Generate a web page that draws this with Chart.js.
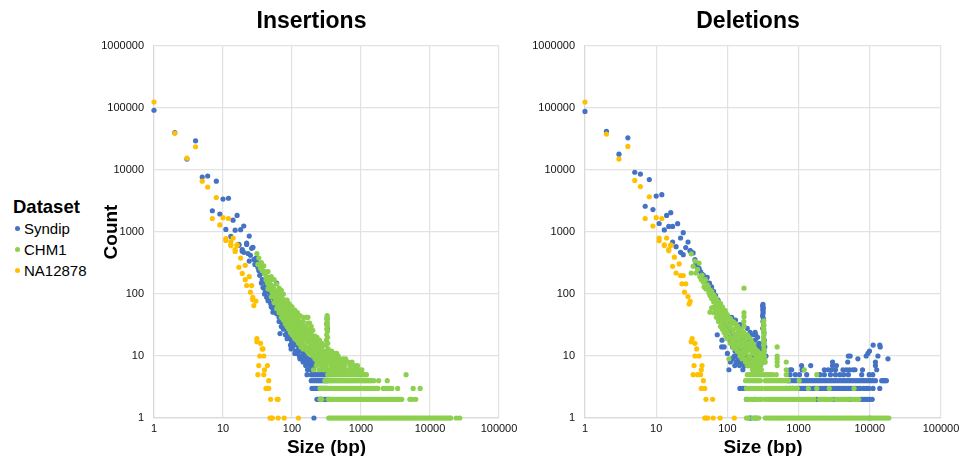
<!DOCTYPE html>
<html>
<head>
<meta charset="utf-8">
<title>Insertions and Deletions</title>
<script src="https://cdn.jsdelivr.net/npm/chart.js@4/dist/chart.umd.min.js"></script>
<style>
  html, body { margin: 0; padding: 0; background: #fff; overflow: hidden; width: 960px; height: 456px; }
  canvas { position: absolute; top: 0; }
  #c-ins { left: 90px; }
  #c-del { left: 530px; }
  #legend { position: absolute; left: 13px; top: 196px; font-family: "Liberation Sans", Arial, sans-serif; color: #000; }
  #legend .head { font-weight: bold; font-size: 18.5px; line-height: 22px; }
  #legend .row { position: relative; font-size: 15px; line-height: 21px; padding-left: 11px; }
  #legend .dot { position: absolute; left: 1.5px; top: 8px; width: 5px; height: 5px; border-radius: 50%; }
</style>
</head>
<body>
<div id="legend"></div>
<canvas id="c-ins" width="443" height="456"></canvas>
<canvas id="c-del" width="436" height="456"></canvas>
<script>
// ── Axis ticks ────────────────────────────────────────────────────
const xTicks = [1, 10, 100, 1000, 10000, 100000];
const yTicks = [1, 10, 100, 1000, 10000, 100000, 1000000];

// ── Legend ────────────────────────────────────────────────────────
const legendTitle = 'Dataset';
const seriesNames = ['Syndip', 'CHM1', 'NA12878'];
const seriesColors = ['#4472C4', '#8CD04E', '#FFC000'];

// ── Insertions: [size, count] ─────────────────────────────────────
const insSyndip = [
  [1,92000],[2,40000],[3,15000],[4,29500],[5,7700],[6,8000],[7,2200],[8,6600],[9,1950],[10,3400],
  [11,1100],[12,3500],[13,850],[14,1550],[15,1070],[16,1850],[17,630],[18,1090],[19,520],[20,1250],
  [22,660],[24,860],[26,545],[27,565],[17,610],[22,630],[27,560],[19,490],[20,470],[23,450],[25,420],
  [28,360],[24,340],[29,300],[30,380],[31,330],[32,270],[33,240],[34,200],[35,260],[36,150],[37,170],
  [38,127],[39,220],[40,165],[41,115],[42,140],[43,89],[44,185],[45,110],[46,82],[47,130],[48,95],
  [49,70],[50,100],[52,60],[53,51],[54,85],[55,72],[56,58],[57,95],[58,65],[60,150],[60,48],[62,70],
  [63,55],[65,42],[67,23],[68,60],[70,36],[72,50],[75,32],[76,45],[78,38],[80,28],[83,35],[85,24],
  [88,30],[90,21],[92,33],[95,19],[97,13],[99,17],[100,26],[102,14],[105,22],[108,16],[110,19],[113,12],
  [115,24],[118,15],[120,11],[122,17],[125,13],[128,10],[130,20],[133,12],[136,9],[140,14],[143,10],
  [145,8],[148,11],[150,13],[155,9],[158,7],[160,10],[163,8],[168,6],[170,9],[175,12],[180,7],[182,8],
  [188,6],[192,9],[195,7],[200,8],[205,6],[210,7],[208,1],[322,40],[320,33],[326,28],
  [40,100],[45,78],[50,62],[55,52],[65,36],[70,30],[75,27],[80,22],[85,19],[95,15],[110,11],[130,9],[140,9]
];
const insSyndipCount5 = [165,190,200,212,225,240,255,270,285,300,320];
const insSyndipCount4 = [190,205,220,235,250,265,285,305,325];
const insSyndipCount3 = [195,210,225,240,255,270,290,310,330];
const insSyndipCount2 = [230,240,250,260,270,280,300,320,340];

const insChm1 = [
  [31,450],[32,300],[33,380],[34,300],[35,260],[36,320],[37,240],[38,280],[39,285],[40,210],[41,230],
  [42,170],[43,190],[44,150],[45,180],[46,130],[47,160],[48,125],[49,140],[50,170],[51,110],[52,135],
  [53,100],[54,125],[55,90],[56,115],[57,85],[58,105],[60,75],[60,145],[61,95],[62,65],[63,110],[64,80],
  [65,70],[66,100],[67,60],[68,85],[69,75],[70,55],[71,90],[72,65],[73,50],[74,80],[75,60],[76,72],
  [78,45],[78,62],[80,52],[80,80],[82,42],[83,74],[84,58],[85,40],[86,48],[88,66],[89,36],[90,44],
  [91,58],[93,34],[94,50],[95,40],[97,30],[98,46],[100,37],[100,55],[102,28],[103,44],[105,33],[106,50],
  [108,26],[109,40],[110,30],[112,46],[113,24],[115,36],[116,28],[117,42],[119,20],[120,32],[122,25],
  [124,38],[125,22],[127,30],[129,18],[130,35],[132,26],[134,21],[136,32],[138,16],[140,27],[142,23],
  [145,36],[147,19],[149,28],[152,15],[154,24],[156,30],[158,18],[160,21],[163,14],[165,26],[168,42],
  [170,34],[172,17],[175,22],[178,13],[180,19],[183,28],[186,15],[189,24],[192,12],[195,18],[198,21],
  [201,14],[204,11],[207,16],[210,20],[214,12],[218,13],[222,10],[225,17],[229,14],[232,11],[236,9],
  [240,15],[244,12],[248,10],[252,13],[256,9],[260,11],[265,8],[270,14],[275,10],[280,12],[285,9],
  [290,11],[295,8],[300,7],[305,10],[310,9],[308,12],[312,15],[315,18],[318,22],[320,27],[322,32],
  [322,38],[323,42],[323,45],[324,35],[325,30],[327,25],[328,20],[330,16],[333,13],[336,11],[340,10],
  [345,9],[350,9],[360,8],[370,10],[380,7],[390,9],[400,8],[410,11],[420,7],[430,9],[445,11],[460,8],
  [475,7],[490,9],[510,7],[530,8],[550,9],[575,7],[600,9],[620,6],[650,8],[690,7],[710,6],[740,8],
  [770,6],[800,7],[850,6],[890,7],[960,6],[1030,6],[4500,5],
  [45,230],[50,190],[55,170],[65,125],[70,115],[75,100],[85,80],[90,70],[95,65],[100,62],[110,55],
  [120,50],[130,45],[145,42],[160,42],[170,42],[180,34],[190,30],[200,26],[215,21],[230,20],[250,18],
  [270,16],[290,15],[45,120],[50,90],[55,72],[60,58],[65,50],[70,42],[75,38],[80,33],[85,30],[90,27],
  [95,24],[100,22],[105,21],[110,19],[117,18],[125,16],[135,14],[145,13],[155,13],[165,12],[175,11],
  [185,11],[200,10],[215,9],[230,8],[250,8],[270,8],[290,7],
  [205,6],[225,7],[245,6],[262,7],[280,6],[298,6],[312,7],[320,6],[332,8],[342,6],[355,11],[365,7],[375,12],
  [385,6],[395,11],[405,6],[415,9],[425,10],[438,6],[450,8],[468,10],[482,6],[500,8],[520,6],[560,8],[590,6]
];
const insChm1Count5 = [330,345,360,375,392,410,430,452,475,500,525,550,580,610,640,670,705,740,780,
  820,860,905,950,1000,1060,1130,1200];
const insChm1Count4 = [300,315,332,350,368,385,405,425,450,472,498,525,555,585,615,650,685,725,765,
  805,850,900,950,1010,1070,1130,1200,1270,1340,1420,1530,1800,2400];
const insChm1Count3 = [255,270,285,300,318,338,355,378,400,422,445,470,498,525,558,590,625,660,700,
  740,785,830,880,930,985,1040,1100,1170,1240,1310,1400,1480,1580,1680,1760,2100,2250,2400,2600,2800,3400,5700,7200];
const insChm1Count2 = [255,262,270,335,350,368,388,410,432,458,484,512,540,572,605,640,678,715,758,
  800,848,895,948,1000,1060,1120,1185,1255,1325,1405,1485,1570,1665,1760,1860,1970,2085,2205,2330,
  2470,2610,2760,2920,3090,3270,3460,3660,3900,5100,5500,6200];
const insChm1Count1 = [340,360,382,405,428,455,482,510,540,574,606,644,680,722,765,810,858,908,962,
  1020,1080,1145,1212,1285,1360,1440,1525,1615,1712,1815,1920,2035,2155,2285,2420,2565,2715,2880,
  3050,3230,3420,3625,3840,4070,4310,4570,4840,5130,5430,5755,6100,6460,6850,7255,7690,8150,8630,
  9145,9690,10270,10880,11530,12200,12950,13700,14530,15400,16300,17300,18300,19400,20000,24000,27000];

const insNa12878 = [
  [1,125000],[2,39000],[3,15500],[4,23700],[5,6600],[6,5300],[7,1650],[8,3600],[9,1300],[10,1700],
  [11,780],[12,1650],[13,620],[14,800],[15,520],[16,620],[11,730],[13,700],[13,605],[16,605],[15,485],
  [18,380],[17,270],[21,290],[19,215],[24,190],[21,170],[22,137],[26,137],[25,107],[27,88],[30,77],
  [27,81],[28,65],[31,19],[31,17],[35,16],[37,13],[38,13],[34,10],[39,10],[33,7],[44,7],[40,6],[32,5],
  [39,5],[46,4],[42,3],[46,3],[44,3],[49,2],[61,2],[63,2],[48,1],[50,1],[52,1],[63,1],[77,1],[124,1]
];

// ── Deletions: [size, count] ──────────────────────────────────────
const delSyndip = [
  [1,88000],[2,42000],[3,18000],[4,33000],[5,9200],[6,8600],[7,2600],[8,7000],[9,2300],[10,3800],
  [11,1370],[12,4000],[13,1080],[14,1850],[15,1230],[16,2050],[17,1230],[17,690],[19,580],[20,1360],
  [22,800],[24,975],[26,560],[28,690],[30,495],[22,470],[24,430],[30,500],[33,460],[35,360],[36,300],
  [38,280],[40,260],[42,230],[44,210],[46,200],[48,175],[50,160],[52,185],[54,140],[56,150],[59,120],
  [58,100],[60,130],[62,90],[64,110],[66,75],[68,95],[70,60],[72,22],[74,80],[76,50],[78,65],[80,40],
  [83,14],[84,18],[85,55],[88,32],[90,45],[92,28],[95,38],[98,24],[100,30],[102,35],[105,6],[105,20],
  [108,27],[110,17],[112,25],[115,42],[118,14],[120,22],[125,37],[127,7],[128,12],[130,19],[133,16],
  [136,10],[140,23],[143,13],[146,8],[150,15],[154,11],[158,18],[160,9],[165,13],[170,7],[175,16],
  [180,10],[185,12],[190,8],[200,14],[208,18],[215,10],[225,12],[232,8],[245,18],[245,14],[255,9],
  [265,11],[278,7],[285,13],[295,8],[316,68],[312,64],[320,60],[314,56],[318,52],[316,48],[312,44],
  [320,40],[316,36],[322,32],[314,28],[326,24],[330,18],[335,14],[348,10],[332,8],
  [1480,7],[3000,8],[3000,7],[3400,7],[5000,10],[5300,10],[4900,8],[6800,9],[8900,10],[9400,11],
  [9900,12],[11150,15],[13800,15],[14000,14],[13000,10],[18000,9],[12000,8],[12000,7],[1100,7],
  [110,8],[118,9],[125,10],[132,8],[140,9],[148,7],[155,8],[165,6],[175,9],[180,7],[195,7],[205,9],
  [222,7],[240,10],[260,7],[270,15],[280,10],[300,12],[310,15],[250,22],[130,38],[150,32],[170,30],
  [190,28],[208,24],[225,22],[245,24],[265,20],[280,16],[90,14],[100,11],[115,9]
];
const delSyndipCount6 = [760,800,1120,1150,2300,2600,2900,3300,4200,4700,5200,5800,6200,7900,12500];
const delSyndipCount5 = [760,900,1030,1300,2000,2300,2800,3300,3800,4300,5000,7700,9800,11000];
const delSyndipCount4 = [720,780,850,930,1060,1140,1230,1320,1420,1530,1650,1780,1920,2070,2230,2410,
  2600,2800,3020,3260,3520,3800,4100,4420,4770,5150,5560,6000,6470,6980,7530,8130,8770,9460,10200,
  11000,12000,14700,15400,16200,17100];
const delSyndipCount3 = [150,165,180,680,760,840,940,1040,1100,1180,1250,1350,1430,1600,1720,1850,2000,
  2150,2320,2500,2700,2900,3100,3350,3600,3800,4100,4400,4700,5050,5400,5800,6300,6800,7300,8200,9000,
  9700,11100,13800];
const delSyndipCount2 = [185,240,1800,3100,5300,7400,7900,8400,8900,9400,10000,10800];
const delSyndipCount1 = [205,215,250,9900];

const delChm1 = [
  [31,445],[31,218],[33,280],[35,340],[36,218],[38,250],[40,315],[41,190],[43,170],[44,200],[46,155],
  [47,130],[49,170],[50,120],[52,140],[54,130],[55,105],[57,51],[57,95],[58,115],[60,85],[62,100],
  [64,75],[65,62],[67,88],[68,58],[70,72],[72,50],[73,65],[75,46],[77,58],[79,70],[80,42],[82,52],
  [84,36],[85,60],[88,30],[88,46],[90,40],[93,54],[95,27],[97,34],[99,37],[100,44],[102,24],[105,9],
  [105,30],[107,38],[110,20],[112,28],[115,33],[118,18],[120,24],[123,35],[126,16],[128,21],[130,28],
  [133,14],[135,19],[135,30],[138,12],[140,23],[143,16],[146,26],[150,11],[152,20],[155,14],[158,17],
  [160,10],[163,22],[166,12],[168,15],[171,124],[171,50],[171,43],[170,36],[171,30],[172,21],[175,18],
  [178,11],[180,14],[184,9],[188,16],[190,12],[195,8],[200,13],[205,10],[210,15],[215,9],[220,12],
  [225,8],[230,11],[235,13],[240,8],[245,9],[250,7],[255,10],[260,8],[265,7],[270,9],[280,8],[290,7],
  [300,8],[325,37],[322,34],[326,31],[320,29],[325,27],[323,24],[327,22],[321,20],[325,18],[329,16],
  [322,15],[326,13],[330,12],[325,11],[328,10],[335,9],[340,8],[310,9],[500,14],[500,10],[500,9],
  [500,8],[500,7],[670,8],[670,6],[1200,6],
  [190,22],[200,20],[205,16],[215,18],[225,16],[235,15],[245,13],[255,12],[265,12],[275,11],[285,10],
  [295,11],[305,10],[205,7],[215,7],[225,6],[235,7],[245,6],[255,6],[270,6],[285,6],[295,7],[300,6],
  [60,110],[65,95],[70,85],[75,75],[80,70],[85,62],[90,55],[95,50],[100,46],[110,40],[120,36],[130,33],
  [140,30],[150,27],[160,25],[170,24],[180,22],[60,60],[65,50],[70,42],[75,36],[80,30],[85,27],[90,24],
  [95,21],[100,19],[110,16],[120,14],[130,13],[140,12],[150,10],[160,9],[170,9],[180,8],[190,7]
];
const delChm1Count5 = [190,205,220,238,256,275,296,320,345,372,400,430,485,670,1800];
const delChm1Count4 = [180,192,205,220,235,252,270,290,340,362,385,410,438,468,500,535,570,610,650,
  695,720,1020];
const delChm1Count3 = [185,198,212,228,245,262,282,302,340,362,388,412,440,470,502,535,572,610,650,
  695,740,790,840,900,960,1370,1800,2700,6000];
const delChm1Count2 = [186,200,215,232,250,268,288,302,338,362,386,412,440,470,502,538,575,612,655,
  698,745,795,850,905,970,1035,1105,1180,1260,1345,1435,1530,1640,1960,2090,2235,2385,2550,2720,2905,
  3350,3580,3825,4085,4360,4660,4975,5600,5980,6390,7000];
const delChm1Count1 = [185,195,228,238,262,275,340,362,385,410,438,468,500,532,568,605,645,688,735,
  785,835,892,950,1015,1082,1155,1232,1315,1402,1495,1595,1700,1815,1935,2065,2205,2350,2510,2675,
  2855,3045,3250,3465,3700,3945,4210,4490,4790,5110,5450,5815,6205,6620,7060,7530,8035,8570,9145,
  10400,11050,11800,12580,13420,14320,15270,16290,17380,18500];

const delNa12878 = [
  [1,125000],[2,38000],[3,15000],[4,24000],[5,6800],[6,5400],[7,1650],[8,3700],[9,1250],[10,1700],
  [11,800],[12,1650],[13,620],[14,800],[15,520],[16,620],[11,725],[13,605],[16,605],[15,500],[18,392],
  [21,305],[17,280],[19,218],[24,198],[22,198],[23,146],[26,146],[25,107],[28,91],[30,76],[29,69],
  [32,19],[31,17],[35,16],[37,13],[35,10],[40,10],[34,7],[44,7],[43,6],[33,5],[38,5],[42,5],[46,4],
  [43,3],[48,3],[50,2],[62,2],[48,1],[50,1],[53,1],[63,1],[79,1],[125,1]
];

// ── Gabung band jadi titik ────────────────────────────────────────
function toPoints(pairs, bands) {
  const pts = pairs.map(p => ({ x: p[0], y: p[1] }));
  bands.forEach(b => b[1].forEach(size => pts.push({ x: size, y: b[0] })));
  return pts;
}

// Judul di gambar asli tidak tepat di tengah canvas, jadi digeser
const shiftTitle = {
  id: 'shiftTitle',
  afterLayout(chart, args, opts) {
    chart.titleBlock.left += opts.dx;
    chart.titleBlock.right += opts.dx;
  },
};

// ── Build chart ───────────────────────────────────────────────────
function buildChart(id, titleText, titleDx, yAxisWidth, rightPad, showCount, syndip, chm1, na12878) {
  const makeSet = (i, data, order) => ({
    label: seriesNames[i],
    data: data,
    order: order,
    clip: false,
    backgroundColor: seriesColors[i],
    borderWidth: 0,
    pointRadius: 2.6,
  });
  return new Chart(document.getElementById(id), {
    type: 'scatter',
    data: {
      datasets: [
        makeSet(0, syndip, 3),
        makeSet(1, chm1, 2),
        makeSet(2, na12878, 1),
      ],
    },
    plugins: [shiftTitle],
    options: {
      responsive: false,
      animation: false,
      layout: { padding: { right: rightPad } },
      plugins: {
        legend: { display: false },
        tooltip: { enabled: false },
        shiftTitle: { dx: titleDx },
        title: {
          display: true,
          text: titleText,
          color: '#000',
          font: { family: "'Liberation Sans'", size: 23, weight: 'bold', lineHeight: 1.2 },
          padding: { top: 8, bottom: 10.4 },
        },
      },
      scales: {
        x: {
          type: 'logarithmic',
          min: 1,
          max: 100000,
          afterBuildTicks: scale => { scale.ticks = xTicks.map(v => ({ value: v })); },
          afterFit: scale => { scale.height = 38; },
          grid: { color: '#e2e2e2', lineWidth: 1.2, drawTicks: false },
          border: { color: '#d9d9d9', width: 1.2 },
          ticks: {
            color: '#111',
            autoSkip: false,
            maxRotation: 0,
            padding: 4,
            font: { family: "'Liberation Sans'", size: 11 },
            callback: v => String(v),
          },
          title: {
            display: true,
            text: 'Size (bp)',
            color: '#000',
            padding: { top: 0, bottom: -1 },
            font: { family: "'Liberation Sans'", size: 19, weight: 'bold', lineHeight: 1 },
          },
        },
        y: {
          type: 'logarithmic',
          min: 1,
          max: 1000000,
          afterBuildTicks: scale => { scale.ticks = yTicks.map(v => ({ value: v })); },
          afterFit: scale => { scale.width = yAxisWidth; },
          grid: { color: '#e2e2e2', lineWidth: 1.2, drawTicks: false },
          border: { color: '#d9d9d9', width: 1.2 },
          ticks: {
            color: '#111',
            autoSkip: false,
            padding: 10,
            font: { family: "'Liberation Sans'", size: 11 },
            callback: v => String(v),
          },
          title: {
            display: showCount,
            text: 'Count',
            color: '#000',
            padding: { top: 12.5, bottom: 0 },
            font: { family: "'Liberation Sans'", size: 19, weight: 'bold', lineHeight: 1 },
          },
        },
      },
    },
  });
}

// ── Legend HTML ───────────────────────────────────────────────────
const legendEl = document.getElementById('legend');
legendEl.innerHTML = '<div class="head">' + legendTitle + '</div>' +
  seriesNames.map((name, i) =>
    '<div class="row"><span class="dot" style="background:' + seriesColors[i] + '"></span>' + name + '</div>'
  ).join('');

// ── Init ──────────────────────────────────────────────────────────
buildChart('c-ins', 'Insertions', 17, 64, 34, true,
  toPoints(insSyndip, [[5, insSyndipCount5], [4, insSyndipCount4], [3, insSyndipCount3], [2, insSyndipCount2]]),
  toPoints(insChm1, [[5, insChm1Count5], [4, insChm1Count4], [3, insChm1Count3], [2, insChm1Count2], [1, insChm1Count1]]),
  toPoints(insNa12878, []));

buildChart('c-del', 'Deletions', 12.5, 55, 25, false,
  toPoints(delSyndip, [[6, delSyndipCount6], [5, delSyndipCount5], [4, delSyndipCount4], [3, delSyndipCount3], [2, delSyndipCount2], [1, delSyndipCount1]]),
  toPoints(delChm1, [[5, delChm1Count5], [4, delChm1Count4], [3, delChm1Count3], [2, delChm1Count2], [1, delChm1Count1]]),
  toPoints(delNa12878, []));
</script>
</body>
</html>
